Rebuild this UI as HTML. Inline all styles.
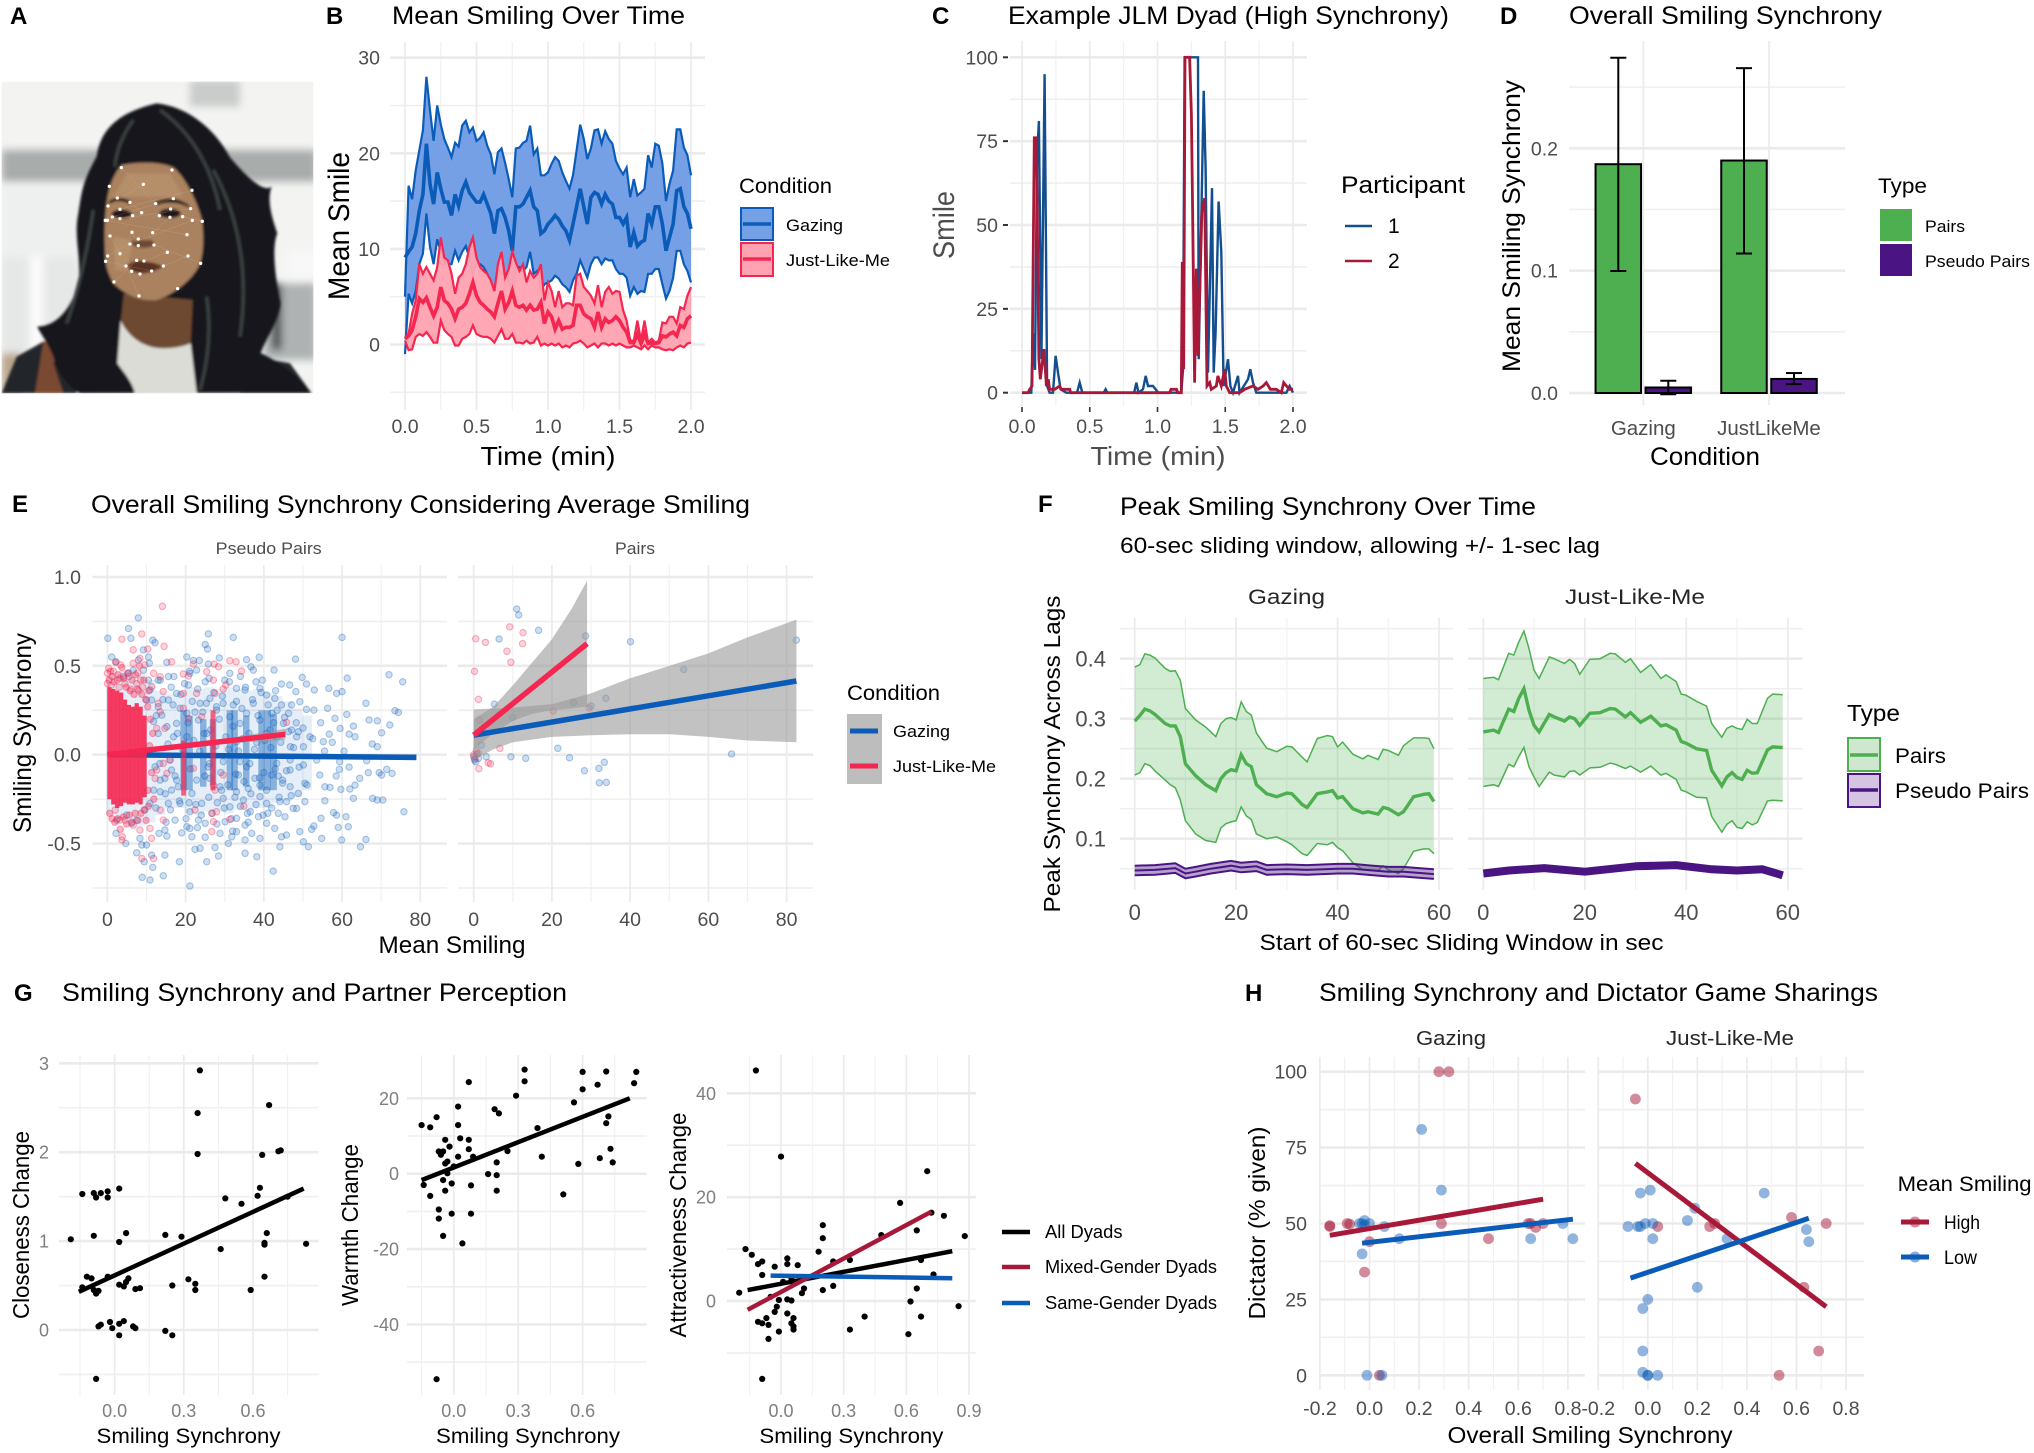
<!DOCTYPE html>
<html lang="en">
<head>
<meta charset="utf-8">
<title>Smiling synchrony figure</title>
<style>
html,body{margin:0;padding:0;background:#fff}
svg{display:block}
text{font-family:"Liberation Sans",Arial,sans-serif;fill:#000}
.pl{font-size:24px;font-weight:700}
.ti{font-size:25px}
.lg{font-size:21px}
.lb{font-size:17px}
.gy{fill:#4d4d4d}
</style>
</head>
<body>
<svg id="figure" xmlns="http://www.w3.org/2000/svg" width="2034" height="1453" viewBox="0 0 2034 1453">
<defs>
<filter id="soft" x="-5%" y="-5%" width="110%" height="110%"><feGaussianBlur stdDeviation="3.6"/></filter>
<filter id="soft2" x="-20%" y="-20%" width="140%" height="140%"><feGaussianBlur stdDeviation="12"/></filter>
<clipPath id="photoClip"><rect x="5" y="35" width="935" height="935"/></clipPath>
</defs>
<rect width="2034" height="1453" fill="#fff"/>

<!-- Panel A -->
<g id="panelA">
<text class="pl" x="10" y="24">A</text>
<g transform="translate(0,70) scale(0.3333)" clip-path="url(#photoClip)">
<rect x="5" y="35" width="935" height="935" fill="#f3f4f2"/>
<g filter="url(#soft2)">
<rect x="5" y="240" width="945" height="95" fill="#a8acab"/>
<rect x="570" y="30" width="150" height="80" fill="#c9cccb"/>
<rect x="5" y="345" width="300" height="210" fill="#eef0ef"/>
<rect x="5" y="560" width="230" height="300" fill="#e6e8e7"/>
<rect x="90" y="560" width="40" height="290" fill="#fbfbfb"/>
<rect x="790" y="640" width="160" height="230" fill="#aeb2b2"/>
<rect x="815" y="640" width="30" height="200" fill="#4a4f50"/>
<rect x="860" y="540" width="90" height="90" fill="#f7f8f7"/>
<rect x="5" y="850" width="60" height="120" fill="#b9a48c"/>
</g>
<g filter="url(#soft)">
<path d="M5 970 L50 860 L130 815 L200 810 L230 970Z M760 860 L870 880 L935 970 L720 970Z" fill="#23282a"/>
<path d="M130 815 L190 810 L160 880 L190 970 L105 970Z M800 860 L830 880 L830 950 L800 920Z" fill="#7a4830"/>
<path d="M470 100 C560 110 640 170 690 262 C740 320 790 370 815 350 C800 390 815 440 832 490 C815 530 825 620 842 700 C835 760 800 800 782 850 C830 870 900 920 930 968 L240 970 C200 950 170 900 160 860 C140 810 120 790 112 770 C160 770 210 730 235 640 C245 560 220 500 235 430 C245 370 245 340 290 260 C300 190 340 130 470 100Z" fill="#14181a"/>
<path d="M372 670 L362 760 C385 800 430 835 480 835 C520 835 550 830 572 820 L578 690Z" fill="#6e4a30"/>
<path d="M362 752 C385 800 430 835 490 835 C520 835 550 830 572 820 L590 970 L405 970 C395 930 365 900 352 880Z" fill="#dcdcd6"/>
<path d="M365 285 C420 275 480 275 520 292 C555 320 590 390 606 450 C612 510 610 550 600 580 C585 620 530 670 470 690 C430 695 380 680 340 640 C325 610 315 590 315 540 C312 480 315 400 330 350 C338 325 350 300 365 285Z" fill="#ab825f"/>
<path d="M380 310 L510 310 L550 380 L340 380Z M340 500 L400 510 L380 600 L345 600Z" fill="#bd9672" opacity=".6"/>
<path d="M325 395 Q355 372 395 395 L390 402 Q355 385 330 402Z" fill="#1d1612"/>
<path d="M465 397 Q520 370 570 408 L565 412 Q520 388 470 405Z" fill="#1d1612"/>
<ellipse cx="365" cy="432" rx="30" ry="13" fill="#20191a"/>
<ellipse cx="510" cy="430" rx="32" ry="14" fill="#20191a"/>
<path d="M390 520 Q425 545 465 525 L455 510 L400 510Z" fill="#6e4a30"/>
<path d="M378 588 Q410 565 435 575 Q460 575 490 590 Q440 620 400 605Z" fill="#5a3024"/>
<path d="M400 150 Q350 220 345 290 M480 120 Q620 220 660 420 M640 300 Q760 520 720 800 M280 420 Q250 620 200 760 M620 680 Q640 820 600 960" stroke="#3a4040" stroke-width="10" fill="none"/>
</g>
<g id="faceDots"></g>
</g>
</g>

<!-- Panel B -->
<g id="panelB">
<text class="pl" x="326" y="24">B</text>
<text class="ti" x="392" y="24" textLength="293" lengthAdjust="spacingAndGlyphs">Mean Smiling Over Time</text>
<text x="548" y="465" font-size="26" text-anchor="middle" textLength="135" lengthAdjust="spacingAndGlyphs">Time (min)</text>
<text x="349" y="226" font-size="30" text-anchor="middle" textLength="148" lengthAdjust="spacingAndGlyphs" transform="rotate(-90 349 226)">Mean Smile</text>
<text class="lg" x="739" y="193" textLength="93" lengthAdjust="spacingAndGlyphs">Condition</text>
<g>
<rect x="741" y="208" width="32" height="32" fill="#76a0e6" stroke="#0a5cb8" stroke-width="2"/>
<line x1="743" x2="771" y1="224" y2="224" stroke="#0a5cb8" stroke-width="3.5"/>
<text class="lb" x="786" y="231" textLength="57" lengthAdjust="spacingAndGlyphs">Gazing</text>
</g>
<g>
<rect x="741" y="243" width="32" height="33" fill="#ffa3b2" stroke="#f5264f" stroke-width="2"/>
<line x1="743" x2="771" y1="259" y2="259" stroke="#f5264f" stroke-width="3.5"/>
<text class="lb" x="786" y="266" textLength="104" lengthAdjust="spacingAndGlyphs">Just-Like-Me</text>
</g>
</g>

<!-- Panel C -->
<g id="panelC">
<text class="pl" x="932" y="24">C</text>
<text class="ti" x="1008" y="24" textLength="441" lengthAdjust="spacingAndGlyphs">Example JLM Dyad (High Synchrony)</text>
<text class="gy" x="1158" y="465" font-size="26" text-anchor="middle" textLength="135" lengthAdjust="spacingAndGlyphs">Time (min)</text>
<text class="gy" x="954" y="225" font-size="30" text-anchor="middle" textLength="68" lengthAdjust="spacingAndGlyphs" transform="rotate(-90 954 225)">Smile</text>
<text x="1341" y="193" font-size="24" textLength="124" lengthAdjust="spacingAndGlyphs">Participant</text>
<g>
<line x1="1345" x2="1372" y1="226" y2="226" stroke="#134f8f" stroke-width="2.6"/>
<text x="1388" y="233" font-size="21">1</text>
</g>
<g>
<line x1="1345" x2="1372" y1="261" y2="261" stroke="#a81838" stroke-width="2.6"/>
<text x="1388" y="268" font-size="21">2</text>
</g>
</g>

<!-- Panel D -->
<g id="panelD">
<text class="pl" x="1500" y="24">D</text>
<text class="ti" x="1569" y="24" textLength="313" lengthAdjust="spacingAndGlyphs">Overall Smiling Synchrony</text>
<text x="1705" y="465" font-size="25" text-anchor="middle" textLength="110" lengthAdjust="spacingAndGlyphs">Condition</text>
<text x="1520" y="226" font-size="25" text-anchor="middle" textLength="292" lengthAdjust="spacingAndGlyphs" transform="rotate(-90 1520 226)">Mean Smiling Synchrony</text>
<text class="lg" x="1878" y="193" textLength="49" lengthAdjust="spacingAndGlyphs">Type</text>
<g>
<rect x="1880" y="209" width="32" height="32" fill="#4daf50"/>
<text class="lb" x="1925" y="232" textLength="40" lengthAdjust="spacingAndGlyphs">Pairs</text>
</g>
<g>
<rect x="1880" y="244" width="32" height="32" fill="#4a1583"/>
<text class="lb" x="1925" y="267" textLength="105" lengthAdjust="spacingAndGlyphs">Pseudo Pairs</text>
</g>
</g>

<!-- Panel E -->
<g id="panelE">
<text class="pl" x="12" y="512">E</text>
<text class="ti" x="91" y="513" textLength="659" lengthAdjust="spacingAndGlyphs">Overall Smiling Synchrony Considering Average Smiling</text>
<text class="lb gy" x="268.7" y="554" text-anchor="middle" textLength="106" lengthAdjust="spacingAndGlyphs">Pseudo Pairs</text>
<text class="lb gy" x="635" y="554" text-anchor="middle" textLength="40" lengthAdjust="spacingAndGlyphs">Pairs</text>
<text x="452" y="953" font-size="24" text-anchor="middle" textLength="147" lengthAdjust="spacingAndGlyphs">Mean Smiling</text>
<text x="31" y="733" font-size="25" text-anchor="middle" textLength="200" lengthAdjust="spacingAndGlyphs" transform="rotate(-90 31 733)">Smiling Synchrony</text>
<text class="lg" x="847" y="700" textLength="93" lengthAdjust="spacingAndGlyphs">Condition</text>
<rect x="847" y="714" width="35" height="70" fill="#bdbdbd"/>
<g>
<line x1="850" x2="878" y1="731" y2="731" stroke="#0a5cb8" stroke-width="5"/>
<text class="lb" x="893" y="737" textLength="57" lengthAdjust="spacingAndGlyphs">Gazing</text>
</g>
<g>
<line x1="850" x2="878" y1="766" y2="766" stroke="#f5264f" stroke-width="5"/>
<text class="lb" x="893" y="772" textLength="103" lengthAdjust="spacingAndGlyphs">Just-Like-Me</text>
</g>
</g>

<!-- Panel F -->
<g id="panelF">
<text class="pl" x="1038" y="512">F</text>
<text class="ti" x="1120" y="515" textLength="416" lengthAdjust="spacingAndGlyphs">Peak Smiling Synchrony Over Time</text>
<text x="1120" y="553" font-size="22" textLength="480" lengthAdjust="spacingAndGlyphs">60-sec sliding window, allowing +/- 1-sec lag</text>
<text class="gy" x="1286.5" y="604" font-size="21" text-anchor="middle" textLength="77" lengthAdjust="spacingAndGlyphs" style="fill:#262626">Gazing</text>
<text class="gy" x="1635" y="604" font-size="21" text-anchor="middle" textLength="140" lengthAdjust="spacingAndGlyphs" style="fill:#262626">Just-Like-Me</text>
<text x="1461.5" y="950" font-size="22" text-anchor="middle" textLength="404" lengthAdjust="spacingAndGlyphs">Start of 60-sec Sliding Window in sec</text>
<text x="1060" y="754" font-size="23" text-anchor="middle" textLength="317" lengthAdjust="spacingAndGlyphs" transform="rotate(-90 1060 754)">Peak Synchrony Across Lags</text>
<text x="1847" y="721" font-size="23" textLength="53" lengthAdjust="spacingAndGlyphs">Type</text>
<g>
<rect x="1848" y="738" width="32" height="33" fill="#d0e7cf" stroke="#4daf50" stroke-width="2"/>
<line x1="1850" x2="1878" y1="755" y2="755" stroke="#4daf50" stroke-width="3.5"/>
<text x="1895" y="763" font-size="21" textLength="51" lengthAdjust="spacingAndGlyphs">Pairs</text>
</g>
<g>
<rect x="1848" y="774" width="32" height="33" fill="#d4c4e2" stroke="#4a1583" stroke-width="2"/>
<line x1="1850" x2="1878" y1="790" y2="790" stroke="#4a1583" stroke-width="3.5"/>
<text x="1895" y="798" font-size="21" textLength="134" lengthAdjust="spacingAndGlyphs">Pseudo Pairs</text>
</g>
</g>

<!-- Panel G -->
<g id="panelG">
<text class="pl" x="14" y="1001">G</text>
<text class="ti" x="62" y="1001" textLength="505" lengthAdjust="spacingAndGlyphs">Smiling Synchrony and Partner Perception</text>
<text x="188.5" y="1443" font-size="21" text-anchor="middle" textLength="184" lengthAdjust="spacingAndGlyphs">Smiling Synchrony</text>
<text x="528" y="1443" font-size="21" text-anchor="middle" textLength="184" lengthAdjust="spacingAndGlyphs">Smiling Synchrony</text>
<text x="851.4" y="1443" font-size="21" text-anchor="middle" textLength="184" lengthAdjust="spacingAndGlyphs">Smiling Synchrony</text>
<text x="29" y="1225" font-size="23" text-anchor="middle" textLength="188" lengthAdjust="spacingAndGlyphs" transform="rotate(-90 29 1225)">Closeness Change</text>
<text x="358" y="1225" font-size="23" text-anchor="middle" textLength="162" lengthAdjust="spacingAndGlyphs" transform="rotate(-90 358 1225)">Warmth Change</text>
<text x="686" y="1225" font-size="23" text-anchor="middle" textLength="225" lengthAdjust="spacingAndGlyphs" transform="rotate(-90 686 1225)">Attractiveness Change</text>
<g>
<line x1="1002" x2="1030" y1="1232" y2="1232" stroke="#000" stroke-width="4.5"/>
<text x="1045" y="1238" font-size="18" textLength="77.5" lengthAdjust="spacingAndGlyphs">All Dyads</text>
</g>
<g>
<line x1="1002" x2="1030" y1="1267" y2="1267" stroke="#a81838" stroke-width="4.5"/>
<text x="1045" y="1273" font-size="18" textLength="172" lengthAdjust="spacingAndGlyphs">Mixed-Gender Dyads</text>
</g>
<g>
<line x1="1002" x2="1030" y1="1303" y2="1303" stroke="#0a5cb8" stroke-width="4.5"/>
<text x="1045" y="1309" font-size="18" textLength="172" lengthAdjust="spacingAndGlyphs">Same-Gender Dyads</text>
</g>
</g>

<!-- Panel H -->
<g id="panelH">
<text class="pl" x="1245" y="1001">H</text>
<text class="ti" x="1319" y="1001" textLength="559" lengthAdjust="spacingAndGlyphs">Smiling Synchrony and Dictator Game Sharings</text>
<text x="1451" y="1045" font-size="20" text-anchor="middle" textLength="70" lengthAdjust="spacingAndGlyphs" style="fill:#262626">Gazing</text>
<text x="1730" y="1045" font-size="20" text-anchor="middle" textLength="128" lengthAdjust="spacingAndGlyphs" style="fill:#262626">Just-Like-Me</text>
<text x="1590" y="1443" font-size="23" text-anchor="middle" textLength="285" lengthAdjust="spacingAndGlyphs">Overall Smiling Synchrony</text>
<text x="1265" y="1223" font-size="23" text-anchor="middle" textLength="193" lengthAdjust="spacingAndGlyphs" transform="rotate(-90 1265 1223)">Dictator (% given)</text>
<text class="lg" x="1897.6" y="1191" textLength="134" lengthAdjust="spacingAndGlyphs">Mean Smiling</text>
<g>
<line x1="1901" x2="1929" y1="1222" y2="1222" stroke="#a81838" stroke-width="5"/>
<circle cx="1915" cy="1222" r="5.5" fill="#a81838" opacity=".5"/>
<text x="1944" y="1229" font-size="19" textLength="36" lengthAdjust="spacingAndGlyphs">High</text>
</g>
<g>
<line x1="1901" x2="1929" y1="1257" y2="1257" stroke="#0a5cb8" stroke-width="5"/>
<circle cx="1915" cy="1257" r="5.5" fill="#0a5cb8" opacity=".5"/>
<text x="1944" y="1264" font-size="19" textLength="33" lengthAdjust="spacingAndGlyphs">Low</text>
</g>
</g>
</svg>

<script>
/* ---------- Panel A landmark readings ---------- */
const faceX=[364,516,430,328,576,352,390,467,520,324,572,360,512,425,398,337,548,360,510,478,316,322,577,607,396,458,330,561,415,390,462,415,502,360,564,323,317,602,410,432,378,490,395,455,420,342,533,417];
const faceY=[293,300,343,349,361,384,397,401,386,408,416,418,417,428,437,441,440,446,442,437,451,451,451,454,487,488,498,494,507,522,525,527,547,551,558,558,574,580,571,573,588,588,604,603,612,636,656,678];

/* ---------- Panel B data ---------- */
const bTimeStep=0.025;
const bBlueUpper=[5,16.6,15.2,18.2,20.3,22.4,28,24.5,21.3,25,23,21.5,20.6,19.6,21.1,20.7,22.9,23.4,22.2,22.7,21.3,21.6,22.2,20.8,19.9,17.8,20.1,20.5,19,17.3,15.4,20.5,20.6,21.1,21.3,22.9,19.9,20.5,17.7,17.7,18,18.9,19.6,19.2,18,17.1,16.3,17.7,20.3,23,21.5,19.4,20.5,22.4,22.5,21,22.3,21.5,21,19.2,18.4,17.8,18.5,15.4,17.3,15.6,15.9,16.3,19.8,18.5,21,20.8,18.9,15,16.8,18.2,22.5,22.5,20.6,19.8,17.7];
const bBlueMean=[9.1,9.7,10.2,11.6,14,15.7,21,16.8,14.7,18,16.3,14.9,14.9,13.5,15.7,14.5,16.1,17,15.9,15.4,14.9,14.9,15.7,14.7,13.7,11.6,14,14.2,13.3,11.9,9.8,14.4,14.4,14.7,15.4,16.1,14.4,14,11.6,11.9,12.6,13,13.5,13.1,12.4,11.9,10.9,12.6,14.4,16.3,14.4,12.6,15.4,15.9,15.7,14.7,15.7,15,14.7,13.3,13.3,12.6,13.3,10.2,11.7,10.3,10.7,10.9,13.7,12.6,14.4,14.4,12.6,9.8,11.2,12.6,16.1,16.3,14.4,13.7,12.1];
const bBlueLower=[-1,5.3,4.3,5.6,8.4,9.5,13.7,10.2,8.4,11,9.7,8.4,8.4,8.4,9.8,8.8,9.7,10.3,9.1,7.4,8.6,8.4,8.1,7.4,6.7,5.5,8.1,7.4,7.4,6.7,4.9,8.1,8.1,7.7,8.1,9.7,7.4,7.7,5.6,6.3,6.5,6.7,7.2,6.9,6.3,6,5.5,6.7,7.4,8.8,7.9,7,8.4,9.1,9.1,8.4,9,8.8,8.8,7.9,7.4,7.4,7,5.1,6,5.3,5.6,5.5,7.4,7.4,7.9,7.9,6.3,4.8,5.6,7,9.8,9.8,8.4,7.7,6.5];
const bRedUpper=[0.8,1.1,3.2,4.6,8.4,7.4,8.1,7.4,6.7,8.1,11.2,9.1,8.8,7.4,5.3,7,7.4,8.4,10.2,11.2,9.1,8.1,7.7,7.4,6.7,5.6,8.4,9.7,7,7.9,9.7,8.6,7.7,8.4,6.5,7.7,7,7.4,8.4,4.6,6.5,5.6,3.9,5.6,3.9,4.3,4.3,4.1,7.2,7.4,6,5.6,5.1,4.3,6.2,3.9,5.5,6,5.3,5.6,5.5,3.6,2.5,0.4,0.4,2.5,0.4,2.5,0.2,0.6,0.2,0.4,2.3,2.2,2.9,2.9,2.2,3.9,3.7,5.1,6];
const bRedMean=[0.6,0.9,1.5,2.9,4.8,4.4,4.9,3.9,3,3.9,6,4.6,4.3,3.7,2.7,3.7,3.9,4.3,5.3,6.5,5.1,4.4,4.1,3.7,3.4,2.9,4.3,5.6,3.7,4.4,5.6,4.1,3.9,4.1,3.6,4.1,3.6,3.7,4.4,2.2,3.4,2.9,1.6,2.5,1.6,1.8,1.8,2,4.1,4.1,3.2,2.9,2.7,1.8,3.4,1.8,2.7,2.3,2.5,2.9,2.5,1.8,1.3,0.2,0.2,1.1,0.1,1.1,0.1,0.2,0.1,0.2,0.9,0.8,1.1,1.3,0.9,2,1.8,2.7,3];
const bRedLower=[0.4,-0.6,-0.5,0.8,1.1,0.9,1.3,0.8,0.2,0.2,2.5,1.5,1.1,0.8,-0.1,-0.1,0.6,0.8,1.1,2,1.1,0.9,0.8,0.8,0.6,0.2,0.9,1.6,0.6,0.6,1.1,0.2,0.2,0.1,0.4,0.1,0.2,0.8,-0.1,0.1,-0.1,0.1,-0.1,0.1,-0.3,-0.1,-0.3,0.1,0.2,0.4,0.1,-0.3,-0.1,0.1,-0.3,0.1,0.1,-0.1,0.1,-0.1,0.1,-0.1,-0.3,-0.3,-0.1,-0.3,-0.5,-0.1,-0.5,-0.1,-0.3,-0.3,-0.5,-0.6,-0.5,-0.6,-0.3,-0.1,-0.3,0.1,0.2];
const bXTicks=[0,0.5,1,1.5,2];
const bXLabels=['0.0','0.5','1.0','1.5','2.0'];
const bYTicks=[0,10,20,30];
const bYLabels=['0','10','20','30'];

/* ---------- Panel C data ---------- */
const cBlueTime=[0,.069,.081,.096,.111,.125,.143,.167,.185,.204,.229,.248,.266,.285,.327,.406,.426,.445,.603,.617,.63,.827,.844,.859,.893,.913,.93,.967,.986,1.006,1.09,1.176,1.188,1.2,1.299,1.304,1.341,1.355,1.373,1.402,1.415,1.429,1.451,1.471,1.488,1.52,1.538,1.557,1.594,1.606,1.668,1.685,1.705,1.729,1.951,1.975,2];
const cBlueSmile=[0,0,17.7,6.8,70,81,10,95,2,0,0,11,6,1,0,0,3,0,0,1,0,0,3,0,1,5,2,2,1,0,0,0,7,100,100,10,90,67,6,61,6,18,57,42,2,10,2,0,5,0,4,7,3,0,0,2,0];
const cRedTime=[0,.044,.057,.074,.091,.106,.125,.135,.162,.18,.194,.204,.241,.278,.29,.352,.359,1.09,1.1,1.14,1.15,1.176,1.183,1.193,1.203,1.237,1.25,1.262,1.274,1.287,1.299,1.328,1.348,1.365,1.385,1.397,1.434,1.446,1.471,1.496,1.508,1.533,1.606,1.643,1.705,1.742,1.779,1.803,1.833,1.877,1.914,1.931,1.951,1.975,2];
const cRedSmile=[0,0,1,2,76,76,10,4,13,2,4,1,1,2,1,1,0,0,1,1,0,0,39,7,100,100,83,45,3,37,11,54,58,2,3,1,2,5,2,7,2,0,0,1,2,1,2,3,1,1,0,3,2,1,1];
const cXTicks=[0,0.5,1,1.5,2];
const cXLabels=['0.0','0.5','1.0','1.5','2.0'];
const cYTicks=[0,25,50,75,100];
const cYLabels=['0','25','50','75','100'];

/* ---------- Panel D data ---------- */
const dConditions=['Gazing','JustLikeMe'];
const dPairs=[0.187,0.19];
const dPseudo=[0.0045,0.0115];
const dPairsHigh=[0.274,0.2655];
const dPairsLow=[0.0997,0.114];
const dPseudoHigh=[0.01,0.0163];
const dPseudoLow=[-0.001,0.0073];
const dYTicks=[0,0.1,0.2];
const dYLabels=['0.0','0.1','0.2'];

/* ---------- Panel E data ---------- */
const eBlueX=[7.9,5.4,.1,6,11.6,12.2,25.8,25,25.6,32.2,60,1.1,9.2,10.5,15.2,10.7,20.3,22,23.5,25.8,28.6,35.6,38.8,36.7,37.3,42.6,48.1,72,75.5,61.3,49.8,39.6,31.3,25,20.7,15.6,13.5,21.1,22.8,44.5,46.6,50.9,52.9,56.6,58.6,60,48.2,66.1,73.5,74.4,56.3,52.8,50.9,49.2,47.1,44.5,42.8,40.7,39,35.2,33,29.6,26.2,23.7,17.7,15.6,66.9,69,72.2,70.1,61.2,58.2,59.5,62.9,61.8,63.3,67.7,69,56.7,55.2,51.8,48.4,46.8,50.1,66.3,64.5,66.7,69.5,71.4,72.8,70.1,63.3,62,59.7,56.9,55.6,54.3,50.1,59.3,59.4,62.9,67.8,69,70.4,75.8,61,58.6,57.8,54.6,55.6,59,61.6,54.8,59.9,66.1,64.7,51.4,50.1,49.2,52.2,52.8,44.1,42.4,38.2,35.2,39,45.8,44.5,36.9,33,31.8,28.4,25.4,21.1,14.3,10.9,8.9,11.6,9.4,7.5,18.4,14.7,11.3,23.7,22.4,27.5,25,21.6,30.9,35.2,10,8.8,4.7,2.2,15.2,13.2,8.3,20.3,21.1,17.3,14.7,23.3,25,28.8,30.1,33,35.2,40.7,42.8,43.7,45.4,38.6,36.5,31.3,34.8,21.1,18.6,15.6,13.5,11.8,16.4,21.6,24.1,29.6,33,36,39,40.7,44.1,45.8,47.5,48.4,50.5,46.7,48.8,44.8,46.7,50.5,33.5,35.6,37.7,39,26.2,28.8,22.8,16.4,14.7,13.5,12.2,17.7,16,25.8,29.6,33.9,46.7,43.3,42,20.3,23.3,25.4,27.9,31.3,33.9,35.6,39,42,40.7,43.3,45,46.3,47.1,48.8,37.3,15.2,13,13,13.9,11.8,17.7,20.3,16.9,18.6,33,32.2,4.1,6.6,2.2,5.4,7.9,9.2,10.5,10.9,10,11.3,10.9,9.6,7.5,4.9,2.4,6.2];
const eBlueY=[.77,.71,.655,.655,.645,.63,.68,.62,.595,.66,.66,.55,.59,.55,.52,.515,.55,.53,.53,.51,.545,.535,.548,.495,.476,.476,.538,.45,.41,.431,.435,.42,.458,.41,.392,.44,.42,.458,.476,.398,.392,.398,.364,.373,.345,.355,.355,.289,.248,.238,.261,.251,.255,.298,.28,.28,.317,.336,.373,.364,.373,.289,.317,.289,.345,.308,.195,.191,.167,.124,.227,.204,.148,.161,.116,.101,.06,.045,.116,.073,.101,.101,.045,.045,-.034,-.133,-.101,-.101,-.083,-.105,-.114,-.171,-.193,-.195,-.184,-.18,-.114,-.058,-.083,-.039,-.246,-.246,-.255,-.255,-.321,-.349,-.34,-.326,-.358,-.259,-.409,-.405,-.471,-.48,-.477,-.518,-.518,-.49,-.433,-.42,-.401,-.518,-.655,-.574,-.555,-.471,-.452,-.462,-.443,-.433,-.462,-.57,-.602,-.739,-.681,-.705,-.69,-.634,-.602,-.552,-.602,-.565,-.565,-.527,-.533,-.522,-.465,-.462,-.499,-.48,-.508,-.508,-.499,-.443,-.458,-.443,-.471,-.405,-.415,-.368,-.424,-.368,-.386,-.443,-.377,-.358,-.396,-.386,-.415,-.33,-.349,-.349,-.321,-.293,-.255,-.321,-.274,-.274,-.208,-.199,-.199,-.218,-.274,-.246,-.208,-.19,-.236,-.274,-.264,-.264,-.302,-.302,-.264,-.18,-.218,-.143,-.086,-.161,-.114,-.068,-.133,-.171,-.133,-.18,-.143,-.086,-.133,-.143,-.068,-.143,-.03,-.068,-.039,-.039,-.03,-.049,-.114,.101,.195,.12,.251,.214,.176,.233,.195,.233,.12,.101,.176,.233,.139,.129,.289,.158,.12,.27,.223,.186,.176,.233,.101,.261,.073,.28,.44,.476,.523,.458,.533,.476,.42,.364,.308,.308,-.274,-.311,-.368,-.34,-.368,-.386];
const eBlueDenseX=[12.5,13.4,14.2,14.8,15.5,16.1,16.8,17.3,17.9,18.4,18.8,19.2,19.7,20.1,20.6,21.2,21.7,22.1,22.6,23.1,23.6,24,24.4,24.9,25.3,25.9,26.4,26.8,27.2,27.7,28.1,28.6,29,29.4,29.9,30.3,30.8,31.2,31.7,32.1,32.6,33,33.5,34,34.4,34.9,35.3,35.8,36.2,36.7,37.1,37.6,38,38.5,38.9,39.3,39.8,40.2,40.7,41.1,41.6,42,42.5,42.9,43.4,43.9,44.3,44.8,45.3,45.8,46.3,47,47.6,48.3,49,50,51,52.5,53.5,54.5,55.5,57.5,58.5,60.5,61.8,13,15,17,19,21,23,26,28,30,32,34,36,38,41,43,12.4,16.3,18.1,20.9,22.4,24.7,26.1,27.9,29.2,31,32.8,34.6,36.4,38.2,40,41.8,43.7];
const eBlueDenseY=[.22,-.05,.31,-.22,.06,-.31,.28,-.12,.12,-.26,.34,.03,.4,-.36,.18,-.08,.3,.08,-.28,.37,.02,-.34,.24,-.12,.29,-.24,.14,-.33,.35,.05,-.27,.2,-.1,.33,-.3,.1,-.17,.41,-.36,.16,-.24,.3,.02,-.29,.26,-.15,.38,-.33,.12,-.22,.31,.03,-.28,.22,-.13,.35,-.34,.08,-.2,.28,.14,-.3,.18,-.08,.25,-.24,.07,-.16,.21,-.09,.13,-.23,.04,.18,-.07,.15,-.17,.09,-.03,.18,.02,.07,-.12,.02,-.07,.42,-.38,.44,-.44,.47,-.41,.43,-.39,.42,-.43,.44,-.38,.41,-.33,.36,-.3,.38,-.18,-.27,.24,.12,-.05,.27,-.2,.03,-.11,.09,-.05,.07,-.1,.04,-.12];
const eRedX=[14.05,3.7,8.8,14.5,6.6,10.3,.3,0,0,3.4,6.6,8.3,9.6,11.8,16.4,22,25.4,27.3,28.4,31.3,32.9,34.3,19.4,20.7,27.1,30.3,29.6,27.5,22.8,19.4,14.3,13.5,11.3,13,19.4,20.7,24.1,13.5,45.8,14.7,12.6,14.3,16,12.6,12.2,13.5,14.3,10.9,8.3,6.6,3.8,3.7,3.2,4.5,2,8.8,11.8,11.3,22.4,26.7,27.9,26.7,27.1,31.3,34.9,29.6,15.2,22,27.1,27.5,1.5,2.5,4.5,5.5,7.8,8.5,9,7.5,3,6,8,1];
const eRedY=[.835,.65,.68,.61,.59,.595,.486,.458,.4,.505,.514,.542,.505,.458,.523,.51,.467,.51,.495,.529,.523,.471,.454,.443,.42,.392,.37,.345,.345,.345,.355,.439,.383,.289,.261,.204,.214,.242,.182,.148,.148,-.049,-.03,-.086,-.133,-.311,-.368,-.415,-.424,-.396,-.462,-.48,-.368,-.368,-.311,-.584,-.584,-.471,-.311,-.33,-.321,-.433,-.377,-.364,-.289,-.114,-.105,-.077,-.171,-.199,.47,.42,.4,.44,.46,.42,.38,.4,.38,.37,.36,.39];
const eRedDensePtX=[.4,.8,1.2,1.7,2.1,2.7,3.2,3.7,4.2,4.8,5.2,5.8,6.3,6.8,7.2,7.7,8.2,8.8,9.3,9.8,10.3,10.6,11,11.3,11.6,10.4,10.8,11.9,.6,1.2,1.9,2.6,3.3,4.1,4.9,5.6,6.3,7.1,7.8,8.6,9.4,9.9,10.5];
const eRedDensePtY=[.42,.47,.44,.41,.52,.45,.43,.49,.43,.38,.46,.36,.42,.34,.45,.37,.5,.34,.42,.31,.27,.36,.2,-.1,.12,-.2,.05,-.25,-.33,-.36,-.38,-.36,-.42,-.35,-.39,-.34,-.38,-.33,-.37,-.33,-.31,-.37,-.29];
const eHazeX=[1,3.5,6,8.5,11,13.5,16,18.5,21,23.5,26,28.5,31,33.5,36,38.5,41,43.5,46,48.5,51];
const eHazeHigh=[.45,.47,.48,.46,.42,.36,.34,.35,.38,.37,.38,.37,.38,.37,.36,.37,.35,.33,.3,.26,.22];
const eHazeLow=[-.34,-.36,-.38,-.4,-.38,-.34,-.3,-.3,-.33,-.34,-.32,-.32,-.33,-.31,-.31,-.3,-.3,-.27,-.26,-.24,-.2];
const eBlueStripX=[19.5,21,24.5,27,31.3,32.5,35.5,39.4,41,42.5];
const eBlueStripHigh=[.25,.22,.2,.2,.25,.25,.22,.25,.25,.23];
const eBlueStripLow=[-.2,-.2,-.18,-.17,-.2,-.2,-.18,-.2,-.2,-.2];
const eRedDenseX=[.5,1.5,2.5,3.5,4.5,5.5,6.5,7.5,8.5,9.5];
const eRedDenseHigh=[.38,.37,.36,.35,.31,.28,.27,.29,.27,.22];
const eRedDenseLow=[-.25,-.28,-.3,-.29,-.27,-.28,-.28,-.27,-.28,-.24];
const eRedStripX=[19.5,27];
const eRedStripHigh=[.08,.25];
const eRedStripLow=[-.23,-.2];
const eFitX=[0,79];
const eFitBlue=[0,-.015];
const eRibBlueX=[0,40,79];
const eRibBlueHigh=[0,.005,.002];
const eRibBlueLow=[0,-.012,-.032];
const eFitRedX=[0,45.5];
const eFitRed=[0,.115];
const eRibRedX=[0,15,30,45.5];
const eRibRedHigh=[0,.04,.09,.145];
const eRibRedLow=[0,.035,.06,.085];
const ePairsBlueX=[11,11.5,16.6,6.5,28.6,40.1,82.5,53.7,33.8,30,25.5,5.3,10,21.5,24.5,33.4,32,28.3,32.1,33.9,65.9,2,13.3,9.5,3.2,0,.2,.8,.5,1.2];
const ePairsBlueY=[.82,.786,.7,.651,.668,.636,.645,.48,.317,.274,.293,.285,.21,.036,-.017,-.043,-.077,-.09,-.158,-.156,.004,.054,-.02,-.011,-.011,-.011,-.03,.002,-.04,-.02];
const ePairsRedX=[9.2,12.6,.5,3,12.5,8.5,9.5,.2,1.2,20.3,29.5,1.5,6.7,3.7,4.3,1.3,.7,0,.3,1.2];
const ePairsRedY=[.719,.687,.653,.632,.625,.582,.52,.469,.311,.246,.263,.195,.036,-.045,-.051,-.079,.022,0,-.02,.008];
const ePairsBlueRibX=[0,5,10,20,30,40,50,60,70,82.5];
const ePairsBlueRibHigh=[.255,.26,.265,.285,.345,.43,.5,.57,.66,.76];
const ePairsBlueRibLow=[-.03,.03,.07,.1,.11,.115,.115,.1,.08,.07];
const ePairsRedRibX=[0,5,10,15,20,25,29];
const ePairsRedRibHigh=[.2,.27,.39,.52,.65,.82,.98];
const ePairsRedRibLow=[.03,.12,.19,.23,.25,.26,.27];
const ePairsFitBlueX=[0,82.5];
const ePairsFitBlue=[.11,.415];
const ePairsFitRedX=[0,29];
const ePairsFitRed=[.11,.625];
const eXTicks=[0,20,40,60,80];
const eXLabels=['0','20','40','60','80'];
const eYTicks=[-.5,0,.5,1];
const eYLabels=['-0.5','0.0','0.5','1.0'];

/* ---------- Panel F data ---------- */
const fGazeTime=[0,1,2,3,4,6,7,8,9,10,12,14,16,17,18,19,20,21,22,23,24,26,28,30,31,33,34,36,38,39,40,41,43,45,46,48,49,50,52,53,55,57,58,59];
const fGazeUpper=[.386,.39,.408,.406,.401,.384,.379,.38,.364,.317,.298,.286,.27,.292,.3,.302,.298,.328,.312,.306,.276,.251,.245,.254,.253,.236,.228,.267,.272,.27,.253,.261,.241,.233,.239,.232,.249,.247,.239,.255,.268,.268,.267,.25];
const fGazeMean=[.296,.305,.316,.313,.307,.292,.288,.288,.27,.225,.205,.19,.18,.2,.21,.215,.213,.24,.225,.22,.19,.175,.17,.176,.175,.157,.152,.175,.178,.18,.168,.17,.15,.143,.145,.141,.152,.15,.14,.145,.17,.174,.175,.162];
const fGazeLower=[.206,.21,.225,.222,.213,.198,.19,.185,.165,.13,.108,.097,.094,.118,.125,.128,.13,.153,.138,.132,.108,.1,.103,.095,.09,.075,.072,.092,.09,.094,.085,.08,.06,.048,.048,.047,.055,.048,.042,.05,.079,.083,.083,.075];
const fGazePseudoTime=[0,4,8,10,12,15,19,21,24,26,30,34,40,43,47,50,53,56,59];
const fGazePseudoMean=[.047,.048,.051,.042,.045,.05,.055,.052,.054,.048,.049,.048,.05,.05,.047,.045,.045,.043,.041];
const fGazePseudoSpread=[.008,.008,.008,.008,.008,.008,.008,.008,.008,.008,.008,.008,.008,.008,.008,.008,.008,.008,.008];
const fJlmTime=[0,2,3,5,6,7,8,9,10,11,13,14,16,17,18,19,21,23,25,26,28,29,31,33,35,36,38,39,40,42,44,45,47,48,49,50,51,52,53,54,56,57,59];
const fJlmUpper=[.367,.369,.365,.409,.406,.428,.446,.417,.381,.367,.403,.4,.392,.399,.392,.374,.399,.4,.409,.408,.394,.4,.377,.39,.367,.373,.362,.341,.339,.329,.321,.292,.269,.284,.288,.284,.282,.299,.292,.292,.334,.341,.34];
const fJlmMean=[.278,.281,.277,.316,.312,.334,.35,.314,.289,.278,.307,.303,.296,.303,.3,.289,.309,.31,.317,.316,.303,.31,.294,.304,.288,.29,.281,.262,.259,.25,.247,.214,.188,.203,.21,.202,.199,.214,.209,.21,.248,.253,.252];
const fJlmLower=[.187,.19,.187,.224,.22,.237,.252,.22,.203,.187,.211,.206,.203,.212,.213,.206,.218,.219,.226,.224,.217,.221,.211,.221,.206,.209,.199,.181,.178,.169,.168,.137,.111,.124,.13,.119,.117,.128,.123,.127,.163,.164,.163];
const fJlmPseudoTime=[0,5,12,20,30,38,45,50,55,59];
const fJlmPseudoMean=[.042,.047,.051,.045,.054,.056,.049,.047,.049,.039];
const fXTicks=[0,20,40,60];
const fXLabels=['0','20','40','60'];
const fYTicks=[.1,.2,.3,.4];
const fYLabels=['0.1','0.2','0.3','0.4'];

/* ---------- Panel G data ---------- */
const gCloseX=[-.19,-.14,-.09,-.08,-.06,-.03,-.03,.02,-.09,.02,.05,.22,.29,-.12,-.1,-.03,.06,.02,.04,.05,-.14,-.09,-.08,-.07,.09,.11,.25,.32,.35,.35,-.07,-.06,-.02,-.01,.02,.02,.04,.08,.09,.22,.25,-.08,.37,.36,.36,.64,.71,.72,.67,.63,.62,.48,.55,.75,.46,.66,.65,.65,.83,.65,.59];
const gCloseY=[1.02,1.53,1.54,1.49,1.54,1.56,1.49,1.59,1.06,.99,1.09,1.07,1.05,.6,.58,.6,.58,.51,.49,.54,.48,.45,.41,.44,.46,.47,.5,.57,.52,.45,.04,.06,.09,.02,-.06,.07,.1,.04,.02,-.01,-.06,-.55,2.92,2.44,1.98,1.97,2.01,2.02,2.53,1.6,1.51,1.48,1.42,1.5,.91,1.09,.98,.96,.97,.6,.45];
const gCloseFitX=[-.155,.82];
const gCloseFitY=[.43,1.59];
const gWarmX=[-.15,-.11,-.08,.07,.02,.02,-.04,-.02,-.07,-.05,-.06,-.04,-.03,.03,.07,.07,.09,.02,0,-.03,-.05,-.14,-.11,-.04,-.01,.08,-.07,-.07,-.01,.08,-.05,.04,-.08,.16,.2,.2,.2,.25,.19,.21,.29,.33,.33,.39,.41,.51,.58,.56,.6,.6,.67,.71,.72,.71,.84,.85,.73,.68,.74];
const gWarmY=[12.9,12.3,15,24.3,17.8,12.9,9,7.2,5.9,5.9,5,2.7,3.2,9.4,9,6.5,4.5,4.5,1.9,.1,-1.7,-3,-5.9,-4.5,-2.6,-3.1,-9.5,-11.9,-10.6,-10.6,-16.5,-18.5,-54.5,-.1,-.4,-4.5,3,6,17.1,16,20.7,27.6,24.5,12.1,4.5,-5.5,2.6,18.9,27,22.4,23.6,27.1,15.2,13.4,24,27,6.6,4.1,3];
const gWarmFitX=[-.15,.82];
const gWarmFitY=[-1.7,20];
const gAttrX=[-.12,0,.7,.57,.72,.78,.65,.48,.88,.2,.2,.18,-.17,-.14,-.09,-.11,.03,.03,.08,-.03,-.09,.25,.33,.67,.73,.05,.01,.2,.25,.11,.1,-.2,-.05,-.01,.03,.05,.65,-.02,.62,-.03,.85,-.11,-.07,-.09,-.06,.06,.05,.03,.4,.33,.67,.61,-.01,.06,.06,-.06,-.09];
const gAttrY=[44.4,27.8,25,18.9,17,16.4,13.6,12.7,12.5,14.6,12.1,9.5,10,8.9,7.6,7.1,8.2,7.1,6.9,6.6,5,7.6,7.9,7.9,5.1,4.4,3.7,2.1,2.9,2.4,1.5,1.6,.8,.2,.3,.1,2.4,-1.1,-.1,-2.1,-1,-4,-3.3,-4.3,-4.6,-3.3,-4.3,-2.4,-3,-5.5,-3,-6.4,-5.9,-4.9,-5.5,-7.3,-15];
const gAttrAllX=[-.16,.82];
const gAttrAllY=[2.1,9.6];
const gAttrMixedX=[-.16,.72];
const gAttrMixedY=[-1.7,17.2];
const gAttrSameX=[-.05,.82];
const gAttrSameY=[4.9,4.4];
const gCloseTicks=[0,1,2,3];
const gCloseLabels=['0','1','2','3'];
const gWarmTicks=[-40,-20,0,20];
const gWarmLabels=['-40','-20','0','20'];
const gAttrTicks=[0,20,40];
const gAttrLabels=['0','20','40'];
const gXTicks=[0,.3,.6];
const gXLabels=['0.0','0.3','0.6'];
const gAttrXTicks=[0,.3,.6,.9];
const gAttrXLabels=['0.0','0.3','0.6','0.9'];

/* ---------- Panel H data ---------- */
const hGazeHighX=[-.16,-.16,-.09,-.08,.29,0,-.02,.04,.28,.32,.48,.64,.65,.67,.7];
const hGazeHighY=[49,49.3,50,49.8,50,44,34,0,100,100,45,50,50,48.7,50];
const hGazeLowX=[-.04,-.03,-.02,0,-.02,.06,.12,-.03,-.01,.05,.21,.29,.65,.78,.82];
const hGazeLowY=[50,50,51,50,49.5,49,45,40,0,0,81,61,45,50,45];
const hJlmHighX=[-.05,.04,.25,.27,.58,.63,.69,.53,.72];
const hJlmHighY=[91,49,49,50,52,29,8,0,50];
const hJlmLowX=[-.08,-.04,-.03,-.01,.02,.02,-.03,.01,.16,.19,.32,.47,.2,0,-.02,-.02,-.02,0,0,.04,.64,.65];
const hJlmLowY=[49,49,49,50,50,45,60,61,51,55,45,60,29,25,22,8,1,0,0,0,48,44];
const hGazeHighFitX=[-.16,.7];
const hGazeHighFitY=[46.1,58];
const hGazeLowFitX=[-.03,.82];
const hGazeLowFitY=[43.5,51.4];
const hJlmHighFitX=[-.05,.72];
const hJlmHighFitY=[69.8,22.6];
const hJlmLowFitX=[-.07,.65];
const hJlmLowFitY=[32,51.7];
const hXTicks=[-.2,0,.2,.4,.6,.8];
const hXLabels=['-0.2','0.0','0.2','0.4','0.6','0.8'];
const hYTicks=[0,25,50,75,100];
const hYLabels=['0','25','50','75','100'];

/* ---------- helpers ---------- */
const NS='http://www.w3.org/2000/svg';
const BLUE='#0a5cb8',RED='#f5264f',GREEN='#4daf50',PURPLE='#4a1583',CRIMSON='#a81838';
function mk(parent,tag,attrs,name){
  const el=document.createElementNS(NS,tag);
  for(const k in attrs) el.setAttribute(k,attrs[k]);
  
  
  parent.appendChild(el);
  return el;
}
const scale=(d0,d1,r0,r1)=>v=>r0+(v-d0)*(r1-r0)/(d1-d0);
function linePath(xs,ys,fx,fy){
  return xs.map((v,i)=>(i?'L':'M')+fx(v).toFixed(1)+' '+fy(ys[i]).toFixed(1)).join('');
}
function bandPath(xs,hi,lo,fx,fy){
  let d=linePath(xs,hi,fx,fy);
  for(let i=xs.length-1;i>=0;i--) d+='L'+fx(xs[i]).toFixed(1)+' '+fy(lo[i]).toFixed(1);
  return d+'Z';
}
function grid(g,p,id){
  p.yMinor.forEach(v=>mk(g,'line',{x1:p.left,x2:p.right,y1:p.y(v),y2:p.y(v),stroke:'#efefef','stroke-width':1.6},'grid-minor-y-'+id));
  p.xMinor.forEach(v=>mk(g,'line',{x1:p.x(v),x2:p.x(v),y1:p.top,y2:p.bottom,stroke:'#f0f0f0','stroke-width':1.1},'grid-minor-x-'+id));
  p.yMajor.forEach(v=>mk(g,'line',{x1:p.left,x2:p.right,y1:p.y(v),y2:p.y(v),stroke:'#ebebeb','stroke-width':2.6},'grid-major-y-'+id));
  p.xMajor.forEach(v=>mk(g,'line',{x1:p.x(v),x2:p.x(v),y1:p.top,y2:p.bottom,stroke:'#ebebeb','stroke-width':1.7},'grid-major-x-'+id));
}
function xLabels(g,vals,labels,fx,base,size,color,id){
  vals.forEach((v,i)=>{
    const t=mk(g,'text',{x:fx(v),y:base,'text-anchor':'middle','font-size':size,style:'fill:'+color},'x-tick-label-'+id);
    t.textContent=labels[i];
  });
}
function yLabels(g,vals,labels,fy,right,size,color,id){
  vals.forEach((v,i)=>{
    const t=mk(g,'text',{x:right,y:fy(v)+size*0.36,'text-anchor':'end','font-size':size,style:'fill:'+color},'y-tick-label-'+id);
    t.textContent=labels[i];
  });
}
function pts(g,xs,ys,fx,fy,r,fill,stroke,name){
  xs.forEach((v,i)=>mk(g,'circle',{cx:fx(v).toFixed(1),cy:fy(ys[i]).toFixed(1),r:r,fill:fill,stroke:stroke,'stroke-width':stroke==='none'?0:1.1},name));
}
function strips(g,xs,hi,lo,fx,fy,width,fill,name){
  xs.forEach((v,i)=>mk(g,'rect',{x:(fx(v)-width/2).toFixed(1),y:fy(hi[i]).toFixed(1),width:width,height:(fy(lo[i])-fy(hi[i])).toFixed(1),fill:fill},name));
}
function fit(g,xs,ys,fx,fy,color,width,name){
  mk(g,'path',{d:linePath(xs,ys,fx,fy),fill:'none',stroke:color,'stroke-width':width},name);
}

/* ---------- Panel A ---------- */
const dots=document.getElementById('faceDots');
faceX.forEach((v,i)=>{ if(i%2===0 && i+7<faceX.length) mk(dots,'line',{x1:v,y1:faceY[i],x2:faceX[i+7],y2:faceY[i+7],stroke:'#e9d4bd','stroke-width':1.4,opacity:.28},'face-mesh-line'); });
faceX.forEach((v,i)=>mk(dots,'circle',{cx:v,cy:faceY[i],r:5,fill:'#fff'},'face-landmark-dot'));

/* ---------- Panel B ---------- */
(function(){
  const g=document.getElementById('panelB');
  const p={left:390,right:705,top:42,bottom:410,x:scale(0,2,405,691),y:scale(0,30,344.5,57.7),
    xMajor:bXTicks,xMinor:[.25,.75,1.25,1.75],yMajor:bYTicks,yMinor:[-5,5,15,25]};
  grid(g,p,'b');
  const t=bBlueMean.map((_,i)=>i*bTimeStep);
  mk(g,'path',{d:bandPath(t,bBlueUpper,bBlueLower,p.x,p.y),fill:'#76a0e6',stroke:'none'},'gazing-ribbon');
  [bBlueUpper,bBlueLower].forEach(s=>mk(g,'path',{d:linePath(t,s,p.x,p.y),fill:'none',stroke:BLUE,'stroke-width':2.2},'gazing-ribbon-edge'));
  mk(g,'path',{d:linePath(t,bBlueMean,p.x,p.y),fill:'none',stroke:BLUE,'stroke-width':3.6},'gazing-mean-line');
  mk(g,'path',{d:bandPath(t,bRedUpper,bRedLower,p.x,p.y),fill:'#ffa3b2','fill-opacity':.96,stroke:'none'},'just-like-me-ribbon');
  [bRedUpper,bRedLower].forEach(s=>mk(g,'path',{d:linePath(t,s,p.x,p.y),fill:'none',stroke:RED,'stroke-width':2.2},'just-like-me-ribbon-edge'));
  mk(g,'path',{d:linePath(t,bRedMean,p.x,p.y),fill:'none',stroke:RED,'stroke-width':3.6},'just-like-me-mean-line');
  xLabels(g,bXTicks,bXLabels,p.x,433,19.5,'#4d4d4d','b');
  yLabels(g,bYTicks,bYLabels,p.y,380,19.5,'#4d4d4d','b');
})();

/* ---------- Panel C ---------- */
(function(){
  const g=document.getElementById('panelC');
  const p={left:1010,right:1307,top:41,bottom:406,x:scale(0,2,1022,1293),y:scale(0,100,392.7,57.3),
    xMajor:cXTicks,xMinor:[.25,.75,1.25,1.75],yMajor:cYTicks,yMinor:[12.5,37.5,62.5,87.5]};
  grid(g,p,'c');
  fit(g,cBlueTime,cBlueSmile,p.x,p.y,'#134f8f',2.4,'participant-1-line');
  fit(g,cRedTime,cRedSmile,p.x,p.y,CRIMSON,2.8,'participant-2-line');
  cYTicks.forEach(v=>mk(g,'line',{x1:1003,x2:1008,y1:p.y(v),y2:p.y(v),stroke:'#333','stroke-width':2},'y-tick-mark-c'));
  cXTicks.forEach(v=>mk(g,'line',{x1:p.x(v),x2:p.x(v),y1:407,y2:412,stroke:'#333','stroke-width':1.6},'x-tick-mark-c'));
  xLabels(g,cXTicks,cXLabels,p.x,433,19.5,'#4d4d4d','c');
  yLabels(g,cYTicks,cYLabels,p.y,998,19.5,'#4d4d4d','c');
})();

/* ---------- Panel D ---------- */
(function(){
  const g=document.getElementById('panelD');
  const catX=scale(0,1,1643.3,1769);
  const p={left:1569,right:1845,top:41,bottom:405,x:catX,y:scale(0,.2,393,148.3),
    xMajor:[0,1],xMinor:[],yMajor:dYTicks,yMinor:[.05,.15,.25]};
  grid(g,p,'d');
  const barW=45.5,off=25;
  function bars(vals,hi,lo,dir,fill,name){
    vals.forEach((v,i)=>{
      const cx=catX(i)+dir*off;
      mk(g,'rect',{x:cx-barW/2,y:p.y(v),width:barW,height:p.y(0)-p.y(v),fill:fill,stroke:'#000','stroke-width':2},'bar-'+name);
      mk(g,'line',{x1:cx,x2:cx,y1:p.y(hi[i]),y2:p.y(lo[i]),stroke:'#000','stroke-width':2},'error-bar-'+name);
      [hi[i],lo[i]].forEach(e=>mk(g,'line',{x1:cx-8,x2:cx+8,y1:p.y(e),y2:p.y(e),stroke:'#000','stroke-width':2},'error-cap-'+name));
    });
  }
  bars(dPairs,dPairsHigh,dPairsLow,-1,GREEN,'pairs');
  bars(dPseudo,dPseudoHigh,dPseudoLow,1,PURPLE,'pseudo-pairs');
  xLabels(g,[0,1],dConditions,catX,435,20.5,'#4d4d4d','d');
  yLabels(g,dYTicks,dYLabels,p.y,1558,19.5,'#4d4d4d','d');
})();

/* ---------- Panel E ---------- */
(function(){
  const g=document.getElementById('panelE');
  const y=scale(0,1,754.7,577);
  const x1=scale(0,80,107.4,420.3), x2=scale(0,80,473.7,786.6);
  const base={top:565,bottom:902,y:y,xMajor:eXTicks,xMinor:[10,30,50,70],yMajor:eYTicks,yMinor:[-.75,-.25,.25,.75]};
  grid(g,Object.assign({left:92.4,right:447,x:x1},base),'e-pseudo');
  grid(g,Object.assign({left:458,right:813,x:x2},base),'e-pairs');
  /* pseudo pairs facet */
  const blueFill='rgba(10,92,184,.2)',blueStroke='rgba(10,92,184,.32)';
  const redFill='rgba(245,38,79,.2)',redStroke='rgba(245,38,79,.35)';
  strips(g,eHazeX,eHazeHigh,eHazeLow,x1,y,10,'rgba(10,92,184,.1)','dense-gazing-density');
  strips(g,eBlueStripX,eBlueStripHigh,eBlueStripLow,x1,y,6.5,'rgba(10,92,184,.42)','dense-gazing-column');
  pts(g,eBlueX,eBlueY,x1,y,3.2,blueFill,blueStroke,'gazing-pseudo-point');
  pts(g,eBlueDenseX,eBlueDenseY,x1,y,3.2,blueFill,blueStroke,'gazing-pseudo-point');
  mk(g,'path',{d:bandPath(eRibBlueX,eRibBlueHigh,eRibBlueLow,x1,y),fill:'#999','fill-opacity':.6},'gazing-fit-ribbon');
  fit(g,eFitX,eFitBlue,x1,y,BLUE,5.5,'gazing-fit-line');
  strips(g,eRedDenseX,eRedDenseHigh,eRedDenseLow,x1,y,4.2,'rgba(245,38,79,.9)','dense-just-like-me-column');
  strips(g,eRedStripX,eRedStripHigh,eRedStripLow,x1,y,5,'rgba(245,38,79,.7)','just-like-me-stripe');
  pts(g,eRedX,eRedY,x1,y,3.2,redFill,redStroke,'just-like-me-pseudo-point');
  pts(g,eRedDensePtX,eRedDensePtY,x1,y,3.2,'rgba(245,38,79,.35)',redStroke,'just-like-me-pseudo-point');
  mk(g,'path',{d:bandPath(eRibRedX,eRibRedHigh,eRibRedLow,x1,y),fill:'#999','fill-opacity':.6},'just-like-me-fit-ribbon');
  fit(g,eFitRedX,eFitRed,x1,y,RED,5.5,'just-like-me-fit-line');
  /* pairs facet */
  pts(g,ePairsBlueX,ePairsBlueY,x2,y,3.2,blueFill,blueStroke,'gazing-pairs-point');
  pts(g,ePairsRedX,ePairsRedY,x2,y,3.2,redFill,redStroke,'just-like-me-pairs-point');
  mk(g,'path',{d:bandPath(ePairsRedRibX,ePairsRedRibHigh,ePairsRedRibLow,x2,y),fill:'#999','fill-opacity':.6},'just-like-me-confidence-band');
  mk(g,'path',{d:bandPath(ePairsBlueRibX,ePairsBlueRibHigh,ePairsBlueRibLow,x2,y),fill:'#999','fill-opacity':.6},'gazing-confidence-band');
  fit(g,ePairsFitBlueX,ePairsFitBlue,x2,y,BLUE,5.5,'gazing-pairs-fit-line');
  fit(g,ePairsFitRedX,ePairsFitRed,x2,y,RED,5.5,'just-like-me-pairs-fit-line');
  xLabels(g,eXTicks,eXLabels,x1,926,19.5,'#4d4d4d','e-pseudo');
  xLabels(g,eXTicks,eXLabels,x2,926,19.5,'#4d4d4d','e-pairs');
  yLabels(g,eYTicks,eYLabels,y,81,19.5,'#4d4d4d','e');
})();

/* ---------- Panel F ---------- */
(function(){
  const g=document.getElementById('panelF');
  const y=scale(0,.4,898.7,658.7);
  const x1=scale(0,60,1134.7,1439), x2=scale(0,60,1483.3,1787.8);
  const base={top:618,bottom:890,y:y,xMajor:fXTicks,xMinor:[10,30,50],yMajor:fYTicks,yMinor:[.05,.15,.25,.35,.45]};
  grid(g,Object.assign({left:1120,right:1453,x:x1},base),'f-gazing');
  grid(g,Object.assign({left:1468,right:1802.7,x:x2},base),'f-jlm');
  function green(t,u,m,l,fx,id){
    mk(g,'path',{d:bandPath(t,u,l,fx,y),fill:GREEN,'fill-opacity':.25},'pairs-ribbon-'+id);
    mk(g,'path',{d:linePath(t,u,fx,y),fill:'none',stroke:GREEN,'stroke-width':1.5},'pairs-upper-line-'+id);
    mk(g,'path',{d:linePath(t,l,fx,y),fill:'none',stroke:GREEN,'stroke-width':1.5},'pairs-lower-line-'+id);
    mk(g,'path',{d:linePath(t,m,fx,y),fill:'none',stroke:GREEN,'stroke-width':3.4},'pairs-mean-line-'+id);
  }
  green(fGazeTime,fGazeUpper,fGazeMean,fGazeLower,x1,'gazing');
  green(fJlmTime,fJlmUpper,fJlmMean,fJlmLower,x2,'jlm');
  const pu=fGazePseudoMean.map((v,i)=>v+fGazePseudoSpread[i]);
  const pl=fGazePseudoMean.map((v,i)=>v-fGazePseudoSpread[i]);
  mk(g,'path',{d:bandPath(fGazePseudoTime,pu,pl,x1,y),fill:PURPLE,'fill-opacity':.4},'pseudo-ribbon-gazing');
  [pu,pl,fGazePseudoMean].forEach(s=>mk(g,'path',{d:linePath(fGazePseudoTime,s,x1,y),fill:'none',stroke:PURPLE,'stroke-width':2},'pseudo-line-gazing'));
  mk(g,'path',{d:linePath(fJlmPseudoTime,fJlmPseudoMean,x2,y),fill:'none',stroke:PURPLE,'stroke-width':8,'stroke-linejoin':'round'},'pseudo-line-jlm');
  xLabels(g,fXTicks,fXLabels,x1,920,22,'#4d4d4d','f-gazing');
  xLabels(g,fXTicks,fXLabels,x2,920,22,'#4d4d4d','f-jlm');
  yLabels(g,fYTicks,fYLabels,y,1106,22,'#4d4d4d','f');
})();

/* ---------- Panel G ---------- */
(function(){
  const g=document.getElementById('panelG');
  const grey='#7f7f7f';
  const xc=scale(0,.6,114.6,253), yc=scale(0,3,1330,1063.3);
  grid(g,{left:59,right:318.6,top:1055,bottom:1395,x:xc,y:yc,xMajor:gXTicks,xMinor:[-.15,.15,.45,.75],yMajor:gCloseTicks,yMinor:[-.5,.5,1.5,2.5]},'g-closeness');
  pts(g,gCloseX,gCloseY,xc,yc,3.1,'#000','none','closeness-point');
  fit(g,gCloseFitX,gCloseFitY,xc,yc,'#000',4.5,'closeness-fit-line');
  xLabels(g,gXTicks,gXLabels,xc,1417,18,grey,'g-closeness');
  yLabels(g,gCloseTicks,gCloseLabels,yc,49,18,grey,'g-closeness');

  const xw=scale(0,.6,453.8,582.6), yw=scale(0,20,1173.7,1098.3);
  grid(g,{left:407,right:646.6,top:1055,bottom:1395,x:xw,y:yw,xMajor:gXTicks,xMinor:[-.15,.15,.45,.75],yMajor:gWarmTicks,yMinor:[-50,-30,-10,10]},'g-warmth');
  pts(g,gWarmX,gWarmY,xw,yw,3.1,'#000','none','warmth-point');
  fit(g,gWarmFitX,gWarmFitY,xw,yw,'#000',4.5,'warmth-fit-line');
  xLabels(g,gXTicks,gXLabels,xw,1417,18,grey,'g-warmth');
  yLabels(g,gWarmTicks,gWarmLabels,yw,399,18,grey,'g-warmth');

  const xa=scale(0,.9,781,969), ya=scale(0,40,1301,1093.3);
  grid(g,{left:727,right:976,top:1055,bottom:1395,x:xa,y:ya,xMajor:gAttrXTicks,xMinor:[-.15,.15,.45,.75],yMajor:gAttrTicks,yMinor:[-10,10,30]},'g-attractiveness');
  pts(g,gAttrX,gAttrY,xa,ya,3.1,'#000','none','attractiveness-point');
  fit(g,gAttrAllX,gAttrAllY,xa,ya,'#000',4.5,'all-dyads-fit-line');
  fit(g,gAttrMixedX,gAttrMixedY,xa,ya,CRIMSON,4.5,'mixed-gender-fit-line');
  fit(g,gAttrSameX,gAttrSameY,xa,ya,BLUE,4.5,'same-gender-fit-line');
  xLabels(g,gAttrXTicks,gAttrXLabels,xa,1417,18,grey,'g-attractiveness');
  yLabels(g,gAttrTicks,gAttrLabels,ya,716,18,grey,'g-attractiveness');
})();

/* ---------- Panel H ---------- */
(function(){
  const g=document.getElementById('panelH');
  const y=scale(0,100,1375.3,1071.7);
  const x1=scale(0,.8,1369.5,1567.9), x2=scale(0,.8,1647.8,1846);
  const base={top:1057,bottom:1390,y:y,xMajor:hXTicks,xMinor:[-.1,.1,.3,.5,.7],yMajor:hYTicks,yMinor:[12.5,37.5,62.5,87.5]};
  grid(g,Object.assign({left:1320,right:1585,x:x1},base),'h-gazing');
  grid(g,Object.assign({left:1598.5,right:1864,x:x2},base),'h-jlm');
  const rf='rgba(168,24,56,.5)',bf='rgba(10,92,184,.45)';
  pts(g,hGazeHighX,hGazeHighY,x1,y,5.4,rf,'none','gazing-high-point');
  pts(g,hGazeLowX,hGazeLowY,x1,y,5.4,bf,'none','gazing-low-point');
  fit(g,hGazeHighFitX,hGazeHighFitY,x1,y,CRIMSON,5,'gazing-high-fit-line');
  fit(g,hGazeLowFitX,hGazeLowFitY,x1,y,BLUE,5,'gazing-low-fit-line');
  pts(g,hJlmHighX,hJlmHighY,x2,y,5.4,rf,'none','jlm-high-point');
  pts(g,hJlmLowX,hJlmLowY,x2,y,5.4,bf,'none','jlm-low-point');
  fit(g,hJlmHighFitX,hJlmHighFitY,x2,y,CRIMSON,5,'jlm-high-fit-line');
  fit(g,hJlmLowFitX,hJlmLowFitY,x2,y,BLUE,5,'jlm-low-fit-line');
  xLabels(g,hXTicks,hXLabels,x1,1415,19.5,'#4d4d4d','h-gazing');
  xLabels(g,hXTicks,hXLabels,x2,1415,19.5,'#4d4d4d','h-jlm');
  yLabels(g,hYTicks,hYLabels,y,1307,19.5,'#4d4d4d','h');
})();
</script>
</body>
</html>
